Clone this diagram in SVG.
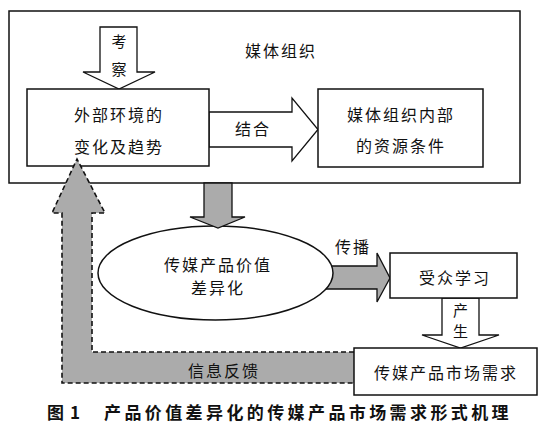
<svg xmlns="http://www.w3.org/2000/svg" width="550" height="430" viewBox="0 0 550 430">
<style>
text{font-family:"Noto Sans CJK SC","Noto Sans",sans-serif;font-size:16px;fill:#111;text-anchor:middle;letter-spacing:2px}
.box{fill:#fff;stroke:#111;stroke-width:1.5}
.hollow{fill:#fff;stroke:#111;stroke-width:1.3;stroke-linejoin:miter}
.gray{fill:#ababab;stroke:#111;stroke-width:1.3}
.dash{fill:#ababab;stroke:#111;stroke-width:1.6;stroke-dasharray:5 3}
.cap{font-weight:bold;font-size:17px;letter-spacing:3.4px}
.sm{font-size:15px;letter-spacing:0}
</style>
<g id="org">
<rect class="box" x="9" y="11" width="511" height="172"/>
<text x="281" y="57">媒体组织</text>
</g>
<g id="connectors">
<g id="observe">
<polygon class="hollow" points="100,27 137,27 137,72 155,72 119,89 83,72 100,72"/>
<text class="sm" x="119" y="47">考</text>
<text class="sm" x="119" y="75">察</text>
</g>
<g id="combine">
<polygon class="hollow" points="209,112 292,112 292,98 318,129.5 292,161 292,147 209,147"/>
<text x="253" y="135">结合</text>
</g>
<g id="spread">
<polygon class="gray" points="320,266 377,266 377,253 390,278 377,302 377,289 320,289"/>
<text x="353" y="253">传播</text>
</g>
<g id="produce">
<polygon class="hollow" points="442,298 479,298 479,335 499,335 460.5,348 422,335 442,335"/>
<text class="sm" x="460.5" y="316">产</text>
<text class="sm" x="460.5" y="337">生</text>
</g>
</g>
<g id="external">
<rect class="box" x="27" y="89" width="182" height="77"/>
<text x="119" y="121">外部环境的</text>
<text x="119" y="153">变化及趋势</text>
</g>
<g id="internal">
<rect class="box" x="318" y="89" width="165" height="78"/>
<text x="401" y="121">媒体组织内部</text>
<text x="401" y="152">的资源条件</text>
</g>
<g id="diff">
<ellipse cx="215.5" cy="273" rx="117.5" ry="47" fill="#fff" stroke="#111" stroke-width="1.5"/>
<text x="218" y="271">传媒产品价值</text>
<text x="218" y="294">差异化</text>
</g>
<g id="connectors2">
<polygon class="gray" points="204,183 232,183 232,217 245,217 218,228 190,217 204,217"/>
<path class="dash" d="M354,352 L92,352 L92,213 L105,213 L77,159 L52,213 L62,213 L62,383 L354,383"/>
<text x="224" y="377">信息反馈</text>
</g>
<g id="learn">
<rect class="box" x="390" y="253" width="127" height="45"/>
<text x="455" y="284">受众学习</text>
</g>
<g id="demand">
<rect class="box" x="354" y="348" width="183" height="47"/>
<text x="446" y="379">传媒产品市场需求</text>
</g>
<g id="caption">
<text class="cap" x="64" y="419" style="letter-spacing:1px">图 1</text>
<text class="cap" x="308" y="419">产品价值差异化的传媒产品市场需求形式机理</text>
</g>
</svg>
